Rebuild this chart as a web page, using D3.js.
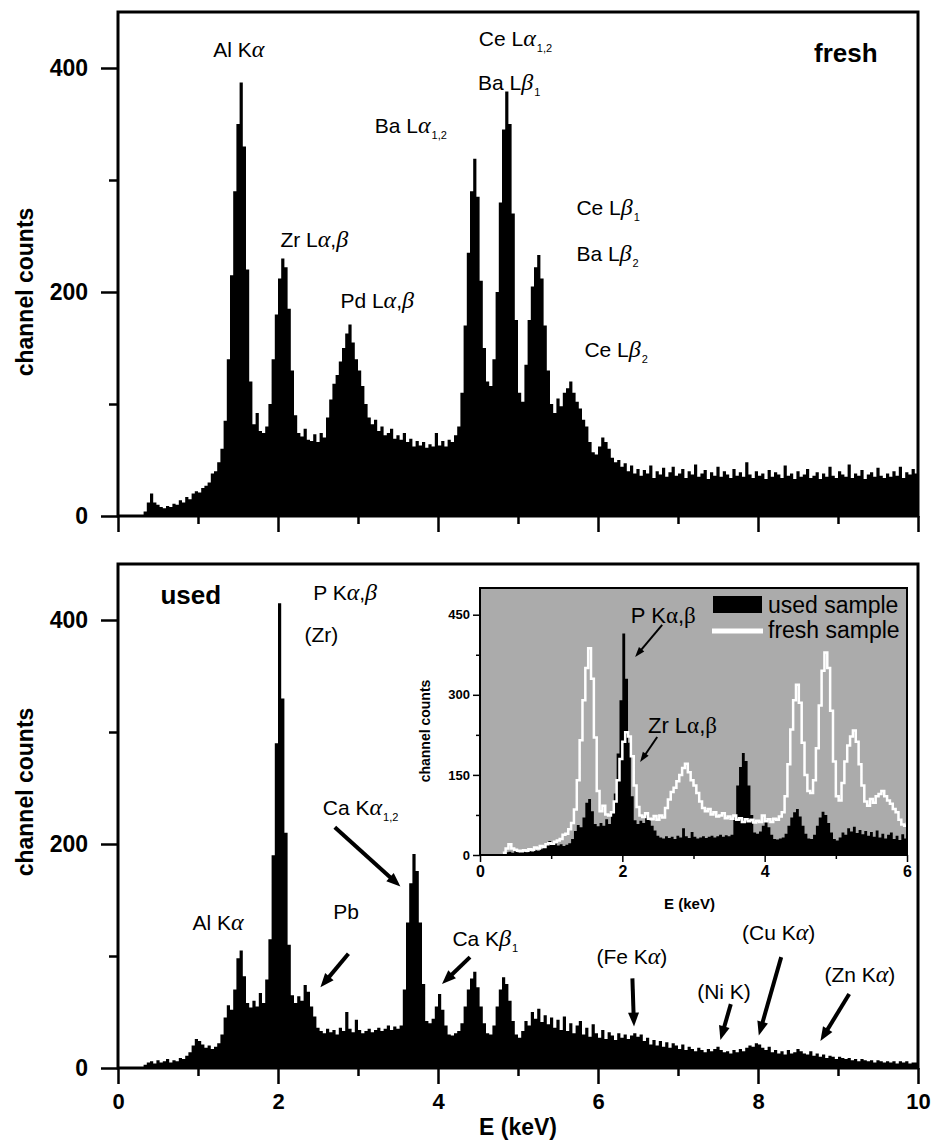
<!DOCTYPE html>
<html>
<head>
<meta charset="utf-8">
<script src="https://cdn.jsdelivr.net/npm/d3@7"></script>
<style>
	body { margin: 0; background: #fff; }
	.canvas { width: 932px; height: 1143px; }
	text { font-family: "Liberation Sans", Arial, sans-serif; fill: #000; }
</style>
</head>
<body>
<div class="canvas"></div>
<script>
//spectra: channel counts in 0.04 keV bins starting at 0 keV
const binWidth = 0.04;

const freshCounts = [
	0, 0, 0, 0, 0, 0, 0, 0, 4, 12, 20, 12, 10, 8, 7, 9, 8, 11, 10, 14,
	12, 17, 15, 20, 22, 21, 25, 27, 30, 38, 40, 48, 60, 85, 140, 215, 290, 350, 387, 330,
	220, 120, 82, 92, 76, 74, 80, 100, 140, 180, 212, 230, 222, 185, 130, 90, 74, 71, 78, 68,
	67, 73, 66, 74, 70, 88, 104, 118, 126, 138, 150, 163, 171, 155, 140, 130, 116, 100, 88, 82,
	86, 76, 80, 72, 74, 78, 69, 72, 68, 74, 66, 69, 62, 67, 63, 66, 61, 64, 62, 74,
	63, 67, 62, 68, 66, 72, 80, 110, 170, 235, 290, 319, 285, 210, 150, 120, 116, 140, 200, 280,
	345, 379, 350, 270, 175, 110, 102, 135, 175, 205, 222, 233, 212, 170, 130, 100, 92, 105, 98, 110,
	114, 120, 110, 102, 96, 86, 80, 66, 57, 55, 62, 70, 66, 60, 52, 48, 50, 44, 47, 40,
	45, 38, 42, 36, 41, 38, 45, 34, 40, 37, 43, 35, 39, 44, 36, 38, 42, 34, 40, 37,
	46, 35, 38, 41, 33, 39, 36, 44, 35, 40, 37, 34, 42, 36, 39, 35, 48, 37, 34, 40,
	36, 38, 33, 41, 35, 39, 37, 34, 45, 36, 38, 33, 40, 35, 37, 42, 34, 36, 39, 33,
	38, 35, 44, 36, 34, 40, 37, 35, 46, 34, 38, 36, 41, 33, 37, 39, 35, 43, 36, 34,
	38, 35, 40, 36, 44, 34, 39, 37, 42, 38
];

const usedCounts = [
	0, 0, 0, 0, 0, 0, 0, 0, 3, 5, 6, 4, 7, 5, 6, 8, 5, 7, 6, 9,
	8, 11, 14, 20, 26, 24, 21, 18, 20, 17, 19, 22, 30, 45, 56, 52, 70, 98, 105, 82,
	58, 54, 60, 55, 67, 58, 79, 115, 190, 290, 415, 330, 210, 110, 65, 58, 64, 60, 74, 68,
	55, 46, 36, 33, 31, 35, 32, 34, 30, 36, 33, 50, 35, 32, 43, 34, 31, 33, 35, 32,
	34, 36, 33, 35, 38, 34, 37, 35, 38, 70, 130, 165, 191, 176, 130, 75, 42, 40, 44, 55,
	66, 52, 38, 30, 29, 31, 33, 40, 55, 70, 80, 86, 72, 55, 40, 31, 30, 38, 55, 70,
	81, 75, 60, 42, 30, 27, 33, 42, 38, 50, 44, 53, 41, 47, 39, 45, 36, 43, 34, 46,
	33, 40, 31, 38, 42, 30, 36, 28, 39, 31, 27, 34, 26, 32, 29, 25, 31, 27, 30, 26,
	29, 31, 28, 30, 24, 27, 21, 25, 20, 24, 19, 23, 18, 22, 20, 17, 21, 16, 19, 17,
	15, 18, 16, 14, 17, 15, 17, 19, 16, 14, 15, 13, 16, 14, 17, 15, 18, 20, 19, 22,
	21, 18, 16, 19, 14, 16, 13, 15, 12, 16, 13, 14, 17, 15, 13, 12, 15, 11, 13, 10,
	12, 9, 11, 10, 8, 10, 9, 8, 9, 7, 8, 6, 8, 7, 6, 7, 5, 7, 6, 5,
	6, 5, 6, 4, 6, 5, 6, 4, 5, 5
];

//ticks
const xMajor = [0, 2, 4, 6, 8, 10];
const xMinor = [1, 3, 5, 7, 9];
const yMajor = [0, 200, 400];
const yMinor = [100, 300];
const insetXMajor = [0, 2, 4, 6];
const insetXMinor = [1, 3, 5];
const insetYMajor = [0, 150, 300, 450];
const insetYMinor = [75, 225, 375];

//peak labels, in keV / counts; parts: [text, kind] kind g = greek, s = subscript
const freshLabels = [
	{ e: 1.19, c: 410, parts: [['Al K'], ['α', 'g']] },
	{ e: 2.03, c: 240, parts: [['Zr L'], ['α', 'g'], [','], ['β', 'g']] },
	{ e: 2.78, c: 186, parts: [['Pd L'], ['α', 'g'], [','], ['β', 'g']] },
	{ e: 3.21, c: 342, parts: [['Ba L'], ['α', 'g'], ['1,2', 's']] },
	{ e: 4.51, c: 420, parts: [['Ce L'], ['α', 'g'], ['1,2', 's']] },
	{ e: 4.50, c: 380, parts: [['Ba L'], ['β', 'g'], ['1', 's']] },
	{ e: 5.73, c: 269, parts: [['Ce L'], ['β', 'g'], ['1', 's']] },
	{ e: 5.73, c: 228, parts: [['Ba L'], ['β', 'g'], ['2', 's']] },
	{ e: 5.83, c: 142, parts: [['Ce L'], ['β', 'g'], ['2', 's']] }
];

const usedLabels = [
	{ e: 2.44, c: 418, parts: [['P K'], ['α', 'g'], [','], ['β', 'g']] },
	{ e: 2.33, c: 380, parts: [['(Zr)']] },
	{ e: 2.56, c: 226, parts: [['Ca K'], ['α', 'g'], ['1,2', 's']] },
	{ e: 0.93, c: 123, parts: [['Al K'], ['α', 'g']] },
	{ e: 2.69, c: 133, parts: [['Pb']] },
	{ e: 4.18, c: 109, parts: [['Ca K'], ['β', 'g'], ['1', 's']] },
	{ e: 5.98, c: 93, parts: [['(Fe K'], ['α', 'g'], [')']] },
	{ e: 7.24, c: 62, parts: [['(Ni K)']] },
	{ e: 7.80, c: 114, parts: [['(Cu K'], ['α', 'g'], [')']] },
	{ e: 8.83, c: 77, parts: [['(Zn K'], ['α', 'g'], [')']] }
];

//arrows: tail keV/counts -> head keV/counts
const usedArrows = [
	[2.71, 215, 3.53, 162],
	[2.88, 102, 2.53, 72],
	[4.40, 99, 4.05, 75],
	[6.43, 80, 6.45, 37],
	[7.66, 57, 7.53, 25],
	[8.29, 99, 8.01, 29],
	[9.14, 66, 8.78, 24]
];

const insetLabels = [
	{ e: 2.12, c: 435, parts: [['P K'], ['α', 'G'], [','], ['β', 'G']] },
	{ e: 2.36, c: 229, parts: [['Zr L'], ['α', 'G'], [','], ['β', 'G']] }
];
const insetArrows = [
	[2.56, 431, 2.18, 371],
	[2.49, 221, 2.25, 174]
];
const legendNames = ['used sample', 'fresh sample'];

//
const W = 932;
const H = 1143;

const x = d3.scaleLinear().domain([0, 10]).range([118, 918]);
const yTop = d3.scaleLinear().domain([0, 450]).range([516, 12]);
const yBot = d3.scaleLinear().domain([0, 450]).range([1068, 564]);
const xIn = d3.scaleLinear().domain([0, 6]).range([480, 907]);
const yIn = d3.scaleLinear().domain([0, 500]).range([855, 588]);

function toPoints(arr) {
	const pts = arr.map((v, i) => [i * binWidth, v]);
	pts.push([arr.length * binWidth, arr[arr.length - 1]]);
	return pts;
}
const freshPts = toPoints(freshCounts);
const usedPts = toPoints(usedCounts);

const canvas = d3.select('.canvas')
	.append('svg')
	.attr('width', W)
	.attr('height', H);

function spectrumArea(xs, ys) {
	return d3.area()
		.curve(d3.curveStepAfter)
		.x(d => xs(d[0]))
		.y0(ys(0))
		.y1(d => ys(d[1]));
}

//write a label made of plain / greek / subscript pieces
function writeLabel(g, xpos, ypos, parts, size) {
	const t = g.append('text')
		.attr('x', xpos)
		.attr('y', ypos)
		.style('font-size', size + 'px');
	let shifted = 0;
	parts.forEach(p => {
		const s = t.append('tspan').text(p[0]);
		if (shifted) { s.attr('dy', -shifted); shifted = 0; }
		if (p[1] == 'g') {
			s.style('font-family', '"Liberation Serif", serif').style('font-style', 'italic')
				.style('font-size', (size + 3) + 'px');
		} else if (p[1] == 'G') {
			s.style('font-family', '"Liberation Serif", serif').style('font-size', (size + 1) + 'px');
		} else if (p[1] == 's') {
			shifted = 6;
			s.attr('dy', shifted).attr('dx', 1).style('font-size', '11px');
		}
	});
	return t;
}

function drawArrow(g, x1, y1, x2, y2, lw, headLen, headW) {
	const dx = x2 - x1, dy = y2 - y1;
	const len = Math.hypot(dx, dy);
	const ux = dx / len, uy = dy / len;
	const bx = x2 - ux * headLen, by = y2 - uy * headLen;
	g.append('line')
		.attr('x1', x1).attr('y1', y1)
		.attr('x2', bx + ux * 2).attr('y2', by + uy * 2)
		.attr('stroke', '#000')
		.attr('stroke-width', lw);
	g.append('path')
		.attr('d', `M${x2},${y2}L${bx - uy * headW / 2},${by + ux * headW / 2}L${bx + uy * headW / 2},${by - ux * headW / 2}Z`)
		.attr('fill', '#000');
}

function styleAxis(sel, size) {
	sel.select('.domain').remove();
	sel.selectAll('.tick line').attr('stroke', '#000').attr('stroke-width', 2.5);
	sel.selectAll('.tick text')
		.style('font-size', size + 'px')
		.style('font-weight', 'bold')
		.attr('fill', '#000');
}

//one main panel
function drawPanel(ys, pts, showXLabels) {
	const g = canvas.append('g');

	g.append('path')
		.datum(pts)
		.attr('d', spectrumArea(x, ys))
		.attr('fill', '#000');

	//x ticks
	const base = ys(0);
	const xa = g.append('g').attr('transform', `translate(0,${base})`)
		.call(d3.axisBottom(x).tickValues(xMajor).tickSize(16).tickPadding(9)
			.tickFormat(showXLabels ? d3.format('d') : () => ''));
	styleAxis(xa, 22);
	const xb = g.append('g').attr('transform', `translate(0,${base})`)
		.call(d3.axisBottom(x).tickValues(xMinor).tickSize(8).tickFormat(() => ''));
	styleAxis(xb, 22);

	//y ticks
	const ya = g.append('g').attr('transform', `translate(${x(0)},0)`)
		.call(d3.axisLeft(ys).tickValues(yMajor).tickSize(17).tickPadding(13).tickFormat(d3.format('d')));
	styleAxis(ya, 23);
	const yb = g.append('g').attr('transform', `translate(${x(0)},0)`)
		.call(d3.axisLeft(ys).tickValues(yMinor).tickSize(9).tickFormat(() => ''));
	styleAxis(yb, 23);

	//frame
	g.append('rect')
		.attr('x', x(0))
		.attr('y', ys.range()[1])
		.attr('width', x(10) - x(0))
		.attr('height', ys(0) - ys.range()[1])
		.attr('fill', 'none')
		.attr('stroke', '#000')
		.attr('stroke-width', 3);

	//axis title
	g.append('text')
		.attr('transform', `translate(33,${(ys(0) + ys.range()[1]) / 2 + (ys === yTop ? 28 : -24)}) rotate(-90)`)
		.attr('text-anchor', 'middle')
		.style('font-size', '23px')
		.style('font-weight', 'bold')
		.text('channel counts');
	return g;
}

const topPanel = drawPanel(yTop, freshPts, false);
const botPanel = drawPanel(yBot, usedPts, true);

canvas.append('text')
	.attr('x', (x(0) + x(10)) / 2)
	.attr('y', 1135)
	.attr('text-anchor', 'middle')
	.style('font-size', '23px')
	.style('font-weight', 'bold')
	.text('E (keV)');

//labels top
freshLabels.forEach(d => writeLabel(topPanel, x(d.e), yTop(d.c), d.parts, 21));
topPanel.append('text')
	.attr('x', x(8.7)).attr('y', yTop(405))
	.style('font-size', '26px').style('font-weight', 'bold')
	.text('fresh');

//labels bottom
usedLabels.forEach(d => writeLabel(botPanel, x(d.e), yBot(d.c), d.parts, 21));
botPanel.append('text')
	.attr('x', x(0.53)).attr('y', yBot(414))
	.style('font-size', '26px').style('font-weight', 'bold')
	.text('used');
usedArrows.forEach(a => drawArrow(botPanel, x(a[0]), yBot(a[1]), x(a[2]), yBot(a[3]), 4, 14, 11));

//inset
const inset = canvas.append('g').attr('id', 'inset');
inset.append('clipPath').attr('id', 'inset-clip')
	.append('rect')
	.attr('x', xIn(0)).attr('y', yIn(500))
	.attr('width', xIn(6) - xIn(0)).attr('height', yIn(0) - yIn(500));

inset.append('rect')
	.attr('x', xIn(0)).attr('y', yIn(500))
	.attr('width', xIn(6) - xIn(0)).attr('height', yIn(0) - yIn(500))
	.attr('fill', '#ababab');

const plotIn = inset.append('g').attr('clip-path', 'url(#inset-clip)');
plotIn.append('path')
	.datum(usedPts.filter(d => d[0] <= 6))
	.attr('d', spectrumArea(xIn, yIn))
	.attr('fill', '#000');
plotIn.append('path')
	.datum(freshPts.filter(d => d[0] >= 0.3 && d[0] <= 6))
	.attr('d', d3.line().curve(d3.curveStepAfter).x(d => xIn(d[0])).y(d => yIn(d[1])))
	.attr('fill', 'none')
	.attr('stroke', '#fff')
	.attr('stroke-width', 2.5);

inset.append('rect')
	.attr('x', xIn(0)).attr('y', yIn(500))
	.attr('width', xIn(6) - xIn(0)).attr('height', yIn(0) - yIn(500))
	.attr('fill', 'none')
	.attr('stroke', '#000')
	.attr('stroke-width', 2);

const ixa = inset.append('g').attr('transform', `translate(0,${yIn(0)})`)
	.call(d3.axisBottom(xIn).tickValues(insetXMajor).tickSize(7).tickPadding(4).tickFormat(d3.format('d')));
styleAxis(ixa, 16);
const ixb = inset.append('g').attr('transform', `translate(0,${yIn(0)})`)
	.call(d3.axisBottom(xIn).tickValues(insetXMinor).tickSize(4).tickFormat(() => ''));
styleAxis(ixb, 16);
const iya = inset.append('g').attr('transform', `translate(${xIn(0)},0)`)
	.call(d3.axisLeft(yIn).tickValues(insetYMajor).tickSize(7).tickPadding(3).tickFormat(d3.format('d')));
styleAxis(iya, 13);
const iyb = inset.append('g').attr('transform', `translate(${xIn(0)},0)`)
	.call(d3.axisLeft(yIn).tickValues(insetYMinor).tickSize(4).tickFormat(() => ''));
styleAxis(iyb, 13);
inset.selectAll('.tick line').attr('stroke-width', 1.5);

inset.append('text')
	.attr('transform', `translate(430,731) rotate(-90)`)
	.attr('text-anchor', 'middle')
	.style('font-size', '14px').style('font-weight', 'bold')
	.text('channel counts');
inset.append('text')
	.attr('x', (xIn(0) + xIn(6)) / 2 - 4).attr('y', 909)
	.attr('text-anchor', 'middle')
	.style('font-size', '15px').style('font-weight', 'bold')
	.text('E (keV)');

insetLabels.forEach(d => writeLabel(inset, xIn(d.e), yIn(d.c), d.parts, 22));
insetArrows.forEach(a => drawArrow(inset, xIn(a[0]), yIn(a[1]), xIn(a[2]), yIn(a[3]), 2, 10, 7));

//legend
const lx = xIn(6) - 194, ly = yIn(500) + 8;
inset.append('rect')
	.attr('x', lx).attr('y', ly)
	.attr('width', 49).attr('height', 17)
	.attr('fill', '#000');
inset.append('line')
	.attr('x1', lx - 1).attr('x2', lx + 50)
	.attr('y1', ly + 35).attr('y2', ly + 35)
	.attr('stroke', '#fff').attr('stroke-width', 5);
inset.selectAll('.legend-text')
	.data(legendNames)
	.enter()
	.append('text')
	.attr('class', 'legend-text')
	.attr('x', lx + 55)
	.attr('y', (d, i) => ly + 17 + i * 25)
	.style('font-size', '23px')
	.text(d => d);
</script>
</body>
</html>
